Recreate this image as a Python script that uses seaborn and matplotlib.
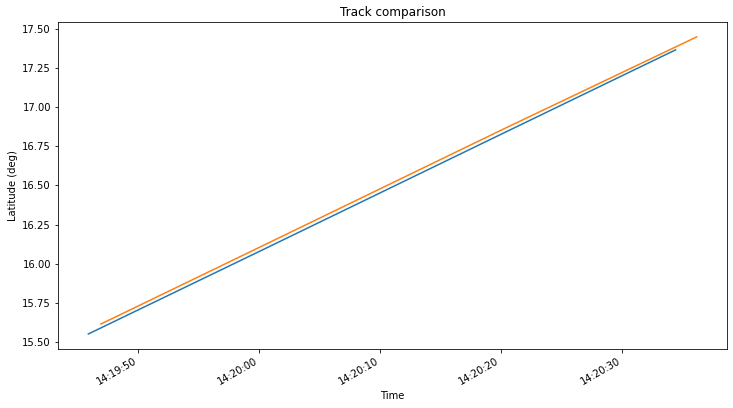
import matplotlib
matplotlib.use('Agg')
import matplotlib.pyplot as plt
import matplotlib.dates as mdates
import seaborn as sns
import pandas as pd

# track A (blue)
times_a = ['2020-01-01 14:19:45.90', '2020-01-01 14:20:00.00', '2020-01-01 14:20:20.00', '2020-01-01 14:20:34.45']
lat_a = [15.551, 16.077, 16.826, 17.366]

# track B (orange)
times_b = ['2020-01-01 14:19:46.95', '2020-01-01 14:20:00.00', '2020-01-01 14:20:20.00', '2020-01-01 14:20:36.20']
lat_b = [15.615, 16.103, 16.852, 17.449]

df_a = pd.DataFrame({'time': pd.to_datetime(times_a, format='ISO8601'), 'lat': lat_a})
df_b = pd.DataFrame({'time': pd.to_datetime(times_b, format='ISO8601'), 'lat': lat_b})

palette = sns.color_palette('tab10')

# rendered at 72 dpi so text/lines keep their original pixel size
fig, ax = plt.subplots(figsize=(733 / 72, 408 / 72), dpi=72)
sns.lineplot(data=df_a, x='time', y='lat', ax=ax, color=palette[0])
sns.lineplot(data=df_b, x='time', y='lat', ax=ax, color=palette[1])

ax.xaxis.set_major_locator(mdates.SecondLocator(bysecond=[0, 10, 20, 30, 40, 50]))
ax.xaxis.set_major_formatter(mdates.DateFormatter('%H:%M:%S'))
ax.set_xlabel('Time')
ax.set_ylabel('Latitude (deg)')
ax.set_title('Track comparison')
fig.autofmt_xdate()
fig.subplots_adjust(left=0.079, right=0.992, top=0.946, bottom=0.145)

plt.savefig('out.png', dpi=72)
